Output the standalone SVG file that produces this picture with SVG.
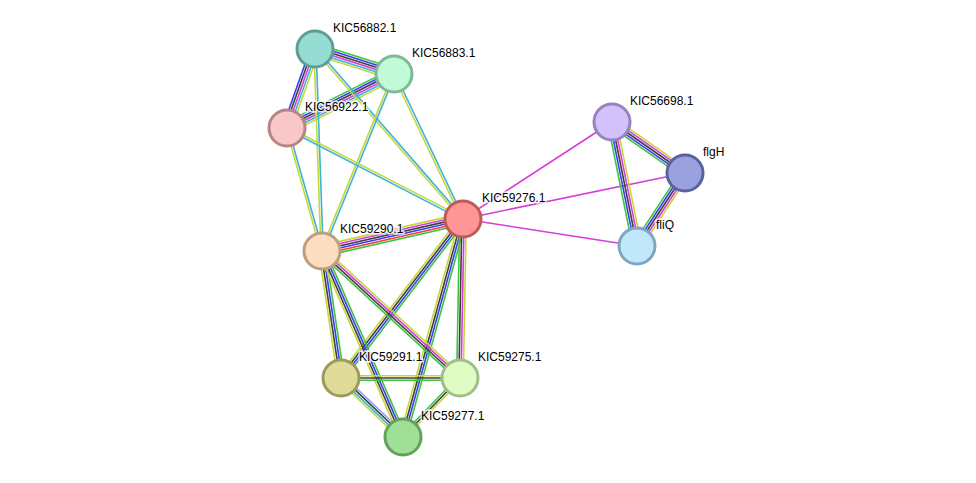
<svg xmlns="http://www.w3.org/2000/svg" width="976" height="483" viewBox="0 0 976 483">
<style>
line{stroke-width:1.6;fill:none}
.y{stroke:#c5d83a}.c{stroke:#3cb4d8}.m{stroke:#d83cd8}.k{stroke:#404040}.b{stroke:#3c3cf0}.g{stroke:#3cc43c}.r{stroke:#f03c3c}.lb{stroke:#a0a0f0}
.n{stroke-width:3}
text{font-family:"Liberation Sans",Arial,sans-serif;font-size:12px;fill:#000;paint-order:stroke;stroke:#fff;stroke-width:3px;stroke-opacity:0.8}
</style>
<rect width="976" height="483" fill="#fff"/>
<g id="edges">
<g transform="translate(315,49) rotate(17.6)"><line class="g" x2="82.9" y1="-5.5" y2="-5.5"/><line class="b" x2="82.9" y1="-3.3" y2="-3.3"/><line class="k" x2="82.9" y1="-1.1" y2="-1.1"/><line class="m" x2="82.9" y1="1.1" y2="1.1"/><line class="c" x2="82.9" y1="3.3" y2="3.3"/><line class="y" x2="82.9" y1="5.5" y2="5.5"/></g>
<g transform="translate(315,49) rotate(109.5)"><line class="y" x2="83.8" y1="-4.4" y2="-4.4"/><line class="c" x2="83.8" y1="-2.2" y2="-2.2"/><line class="m" x2="83.8" y1="0" y2="0"/><line class="k" x2="83.8" y1="2.2" y2="2.2"/><line class="b" x2="83.8" y1="4.4" y2="4.4"/></g>
<g transform="translate(394,74) rotate(153.2)"><line class="y" x2="119.9" y1="-5.5" y2="-5.5"/><line class="c" x2="119.9" y1="-3.3" y2="-3.3"/><line class="m" x2="119.9" y1="-1.1" y2="-1.1"/><line class="k" x2="119.9" y1="1.1" y2="1.1"/><line class="b" x2="119.9" y1="3.3" y2="3.3"/><line class="g" x2="119.9" y1="5.5" y2="5.5"/></g>
<g transform="translate(315,49) rotate(88)"><line class="c" x2="202.1" y1="-1.1" y2="-1.1"/><line class="y" x2="202.1" y1="1.1" y2="1.1"/></g>
<g transform="translate(315,49) rotate(49)"><line class="c" x2="225.4" y1="-1.1" y2="-1.1"/><line class="y" x2="225.4" y1="1.1" y2="1.1"/></g>
<g transform="translate(394,74) rotate(64.6)"><line class="c" x2="160.6" y1="-1.1" y2="-1.1"/><line class="y" x2="160.6" y1="1.1" y2="1.1"/></g>
<g transform="translate(394,74) rotate(112.1)"><line class="c" x2="191.1" y1="-1.1" y2="-1.1"/><line class="y" x2="191.1" y1="1.1" y2="1.1"/></g>
<g transform="translate(287,128) rotate(27.3)"><line class="c" x2="198.1" y1="1.1" y2="1.1"/><line class="y" x2="198.1" y1="-1.1" y2="-1.1"/></g>
<g transform="translate(287,128) rotate(74.1)"><line class="c" x2="127.9" y1="-1.1" y2="-1.1"/><line class="y" x2="127.9" y1="1.1" y2="1.1"/></g>
<g transform="translate(322,251) rotate(-12.8)"><line class="y" x2="144.6" y1="-5.5" y2="-5.5"/><line class="m" x2="144.6" y1="-3.3" y2="-3.3"/><line class="k" x2="144.6" y1="-1.1" y2="-1.1"/><line class="b" x2="144.6" y1="1.1" y2="1.1"/><line class="r" x2="144.6" y1="3.3" y2="3.3"/><line class="g" x2="144.6" y1="5.5" y2="5.5"/></g>
<g transform="translate(463,219) rotate(127.5)"><line class="g" x2="200.4" y1="-3.3" y2="-3.3"/><line class="b" x2="200.4" y1="-1.1" y2="-1.1"/><line class="k" x2="200.4" y1="1.1" y2="1.1"/><line class="y" x2="200.4" y1="3.3" y2="3.3"/></g>
<g transform="translate(463,219) rotate(105.4)"><line class="g" x2="226.1" y1="-3.3" y2="-3.3"/><line class="b" x2="226.1" y1="-1.1" y2="-1.1"/><line class="k" x2="226.1" y1="1.1" y2="1.1"/><line class="y" x2="226.1" y1="3.3" y2="3.3"/></g>
<g transform="translate(463,219) rotate(91.1)"><line class="y" x2="159" y1="-3.3" y2="-3.3"/><line class="m" x2="159" y1="-1.1" y2="-1.1"/><line class="k" x2="159" y1="1.1" y2="1.1"/><line class="g" x2="159" y1="3.3" y2="3.3"/></g>
<g transform="translate(322,251) rotate(42.6)"><line class="y" x2="187.5" y1="-3.3" y2="-3.3"/><line class="m" x2="187.5" y1="-1.1" y2="-1.1"/><line class="k" x2="187.5" y1="1.1" y2="1.1"/><line class="g" x2="187.5" y1="3.3" y2="3.3"/></g>
<g transform="translate(322,251) rotate(81.5)"><line class="g" x2="128.4" y1="-3.3" y2="-3.3"/><line class="b" x2="128.4" y1="-1.1" y2="-1.1"/><line class="k" x2="128.4" y1="1.1" y2="1.1"/><line class="y" x2="128.4" y1="3.3" y2="3.3"/></g>
<g transform="translate(322,251) rotate(66.5)"><line class="g" x2="202.9" y1="-3.3" y2="-3.3"/><line class="b" x2="202.9" y1="-1.1" y2="-1.1"/><line class="k" x2="202.9" y1="1.1" y2="1.1"/><line class="y" x2="202.9" y1="3.3" y2="3.3"/></g>
<g transform="translate(341,378)"><line class="y" x2="119" y1="-2.2" y2="-2.2"/><line class="k" x2="119" y1="0" y2="0"/><line class="g" x2="119" y1="2.2" y2="2.2"/></g>
<g transform="translate(341,378) rotate(43.6)"><line class="lb" x2="85.6" y1="-3.3" y2="-3.3"/><line class="k" x2="85.6" y1="-1.1" y2="-1.1"/><line class="c" x2="85.6" y1="1.1" y2="1.1"/><line class="y" x2="85.6" y1="3.3" y2="3.3"/></g>
<g transform="translate(460,378) rotate(134)"><line class="y" x2="82" y1="-2.2" y2="-2.2"/><line class="k" x2="82" y1="0" y2="0"/><line class="g" x2="82" y1="2.2" y2="2.2"/></g>
<line class="m" x1="463" y1="219" x2="612" y2="122"/>
<line class="m" x1="463" y1="219" x2="685" y2="173"/>
<line class="m" x1="463" y1="219" x2="637" y2="246"/>
<g transform="translate(612,122) rotate(34.9)"><line class="y" x2="89.1" y1="-4.4" y2="-4.4"/><line class="m" x2="89.1" y1="-2.2" y2="-2.2"/><line class="k" x2="89.1" y1="0" y2="0"/><line class="b" x2="89.1" y1="2.2" y2="2.2"/><line class="g" x2="89.1" y1="4.4" y2="4.4"/></g>
<g transform="translate(612,122) rotate(78.6)"><line class="y" x2="126.5" y1="-4.4" y2="-4.4"/><line class="m" x2="126.5" y1="-2.2" y2="-2.2"/><line class="k" x2="126.5" y1="0" y2="0"/><line class="b" x2="126.5" y1="2.2" y2="2.2"/><line class="g" x2="126.5" y1="4.4" y2="4.4"/></g>
<g transform="translate(685,173) rotate(123.3)"><line class="y" x2="87.4" y1="-4.4" y2="-4.4"/><line class="m" x2="87.4" y1="-2.2" y2="-2.2"/><line class="k" x2="87.4" y1="0" y2="0"/><line class="b" x2="87.4" y1="2.2" y2="2.2"/><line class="g" x2="87.4" y1="4.4" y2="4.4"/></g>
</g>
<g id="n-KIC56882.1"><circle class="n" cx="315" cy="49" r="18" fill="#95dcd3" stroke="#5f9e97"/><text x="333" y="32">KIC56882.1</text></g>
<g id="n-KIC56883.1"><circle class="n" cx="394" cy="74" r="18" fill="#c1fad6" stroke="#7fba94"/><text x="412" y="57">KIC56883.1</text></g>
<g id="n-KIC56922.1"><circle class="n" cx="287" cy="128" r="18" fill="#f8c8c8" stroke="#b78585"/><text x="305" y="111">KIC56922.1</text></g>
<g id="n-KIC59276.1"><circle class="n" cx="463" cy="219" r="18" fill="#ff9595" stroke="#c05a5a"/><text x="482" y="202">KIC59276.1</text></g>
<g id="n-KIC59290.1"><circle class="n" cx="322" cy="251" r="18" fill="#fddec0" stroke="#bd9e7f"/><text x="340" y="233">KIC59290.1</text></g>
<g id="n-KIC59291.1"><circle class="n" cx="341" cy="378" r="18" fill="#dfdb98" stroke="#9e9a5e"/><text x="359" y="361">KIC59291.1</text></g>
<g id="n-KIC59275.1"><circle class="n" cx="460" cy="378" r="18" fill="#e1fbc5" stroke="#9fc087"/><text x="478" y="361">KIC59275.1</text></g>
<g id="n-KIC59277.1"><circle class="n" cx="403" cy="437" r="18" fill="#9fdf96" stroke="#62a25a"/><text x="421" y="420">KIC59277.1</text></g>
<g id="n-KIC56698.1"><circle class="n" cx="612" cy="122" r="18" fill="#d3c1fb" stroke="#9683c0"/><text x="630" y="105">KIC56698.1</text></g>
<g id="n-flgH"><circle class="n" cx="685" cy="173" r="18" fill="#9aa2de" stroke="#5b62a0"/><text x="703" y="156">flgH</text></g>
<g id="n-fliQ"><circle class="n" cx="637" cy="246" r="18" fill="#c1e7fb" stroke="#7fa6c0"/><text x="656" y="229">fliQ</text></g>
</svg>
